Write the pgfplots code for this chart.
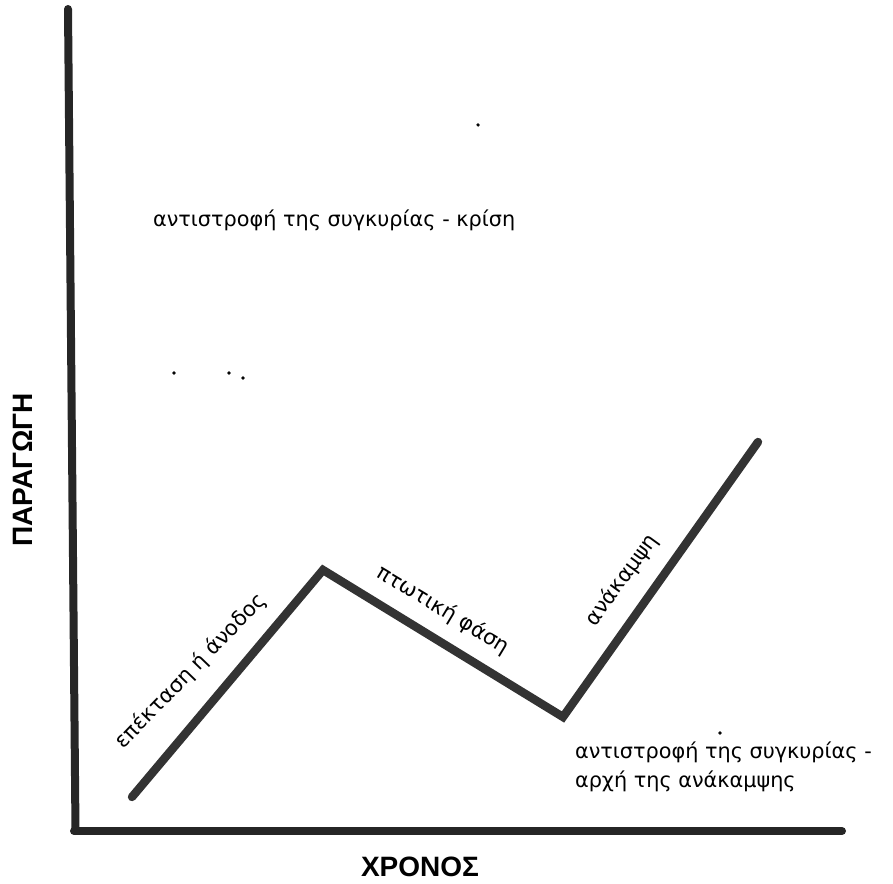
\documentclass[border=0pt]{standalone}
\usepackage{fontspec}
\setmainfont{DejaVu Sans}
\newfontfamily\labfont{Liberation Sans}
\usepackage{pgfplots}
\pgfplotsset{compat=1.18}
\begin{document}
\begin{tikzpicture}
\begin{axis}[
  scale only axis, width=446.5pt, height=441.5pt,
  xmin=0, xmax=893, ymin=0, ymax=883,
  hide axis, clip=false,
]
% axes drawn as thick lines
\addplot[black!85, line width=4pt, line cap=round] coordinates {(68,874) (75.5,52)};
\addplot[black!85, line width=4pt, line cap=round] coordinates {(74,52) (842,52)};
% production curve
\addplot[black!80, line width=4.2pt, line join=miter, line cap=round] coordinates {(132,86) (323,313) (563,166) (758,441)};
% scan specks
\addplot[only marks, mark=*, mark size=0.6pt, black] coordinates {(174,510) (229,510) (243,505) (478,758) (720,150)};
% labels
\node[anchor=base west, font=\fontsize{10.4}{12}\selectfont] at (axis cs:146,656) {αντιστροφή της συγκυρίας - κρίση};
\node[rotate=46, font=\fontsize{10.6}{12}\selectfont] at (axis cs:191,212) {επέκταση ή άνοδος};
\node[rotate=-31, font=\fontsize{10.6}{12}\selectfont] at (axis cs:443,273) {πτωτική φάση};
\node[rotate=54, font=\fontsize{10.6}{12}\selectfont] at (axis cs:622,303) {ανάκαμψη};
\node[anchor=base west, font=\fontsize{10.4}{12}\selectfont] at (axis cs:568,125) {αντιστροφή της συγκυρίας -};
\node[anchor=base west, font=\fontsize{10.4}{12}\selectfont] at (axis cs:568,96) {αρχή της ανάκαμψης};
\node[rotate=90, font=\labfont\fontsize{14}{16}\selectfont\bfseries] at (axis cs:23,413) {ΠΑΡΑΓΩΓΗ};
\node[font=\labfont\fontsize{14}{16}\selectfont\bfseries] at (axis cs:420,16) {ΧΡΟΝΟΣ};
\coordinate (bl) at (axis cs:0,0);
\coordinate (tr) at (axis cs:893,883);
\end{axis}
\pgfresetboundingbox
\path (bl) rectangle (tr);
\end{tikzpicture}
\end{document}
